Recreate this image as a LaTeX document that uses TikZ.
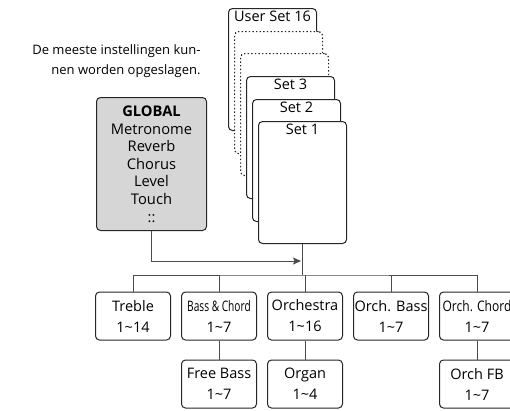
\documentclass[tikz,border=0pt]{standalone}
\usepackage{fontspec}
\setmainfont{Open Sans}
\usetikzlibrary{positioning, arrows.meta}

\begin{document}
\begin{tikzpicture}[
  x=1pt, y=-1pt,
  >={Stealth[length=8pt, width=7pt, inset=1.5pt]},
  line width=1pt,
  font=\fontsize{14.5}{18}\selectfont,
  card/.style={draw=black!85, fill=white, rounded corners=4pt, minimum width=88pt, minimum height=122pt, anchor=north west, inner sep=0pt},
  ghost/.style={card, dash pattern=on 1.4pt off 2.2pt, line width=1.2pt},
  cardname/.style={anchor=north, inner sep=0pt, yshift=-2pt},
  mode/.style={draw=black!85, rounded corners=4pt, minimum width=75pt, minimum height=48pt, align=center, inner sep=1pt, font=\fontsize{14.5}{21}\selectfont},
  wire/.style={draw=black!70},
  node distance=19pt and 10pt
]
  \useasboundingbox (0,0) rectangle (510,410);

  % Note at the top left
  \node[anchor=north east, align=right, inner sep=0pt, font=\fontsize{13}{20}\selectfont] (note) at (201,44)
    {De meeste instellingen kun-\\nen worden opgeslagen.};

  % Stack of user sets, back to front
  \node[card] (user16) at (228,8) {};
  \node[cardname] at (user16.north) {User Set 16};
  \node[ghost] (dots1) at (234,31) {};
  \node[ghost] (dots2) at (240,53) {};
  \node[card] (set3) at (246,76) {};
  \node[cardname] at (set3.north) {Set 3};
  \node[card] (set2) at (252,99) {};
  \node[cardname] at (set2.north) {Set 2};
  \node[card] (set1) at (258,121) {};
  \node[cardname] at (set1.north) {Set 1};

  % Global settings
  \node[draw=black!85, fill=black!16, rounded corners=4pt, anchor=north west, minimum width=110pt, minimum height=133pt,
        align=center, inner sep=2pt, font=\fontsize{14.7}{17.6}\selectfont] (global) at (96,97)
    {\textbf{GLOBAL}\\Metronome\\Reverb\\Chorus\\Level\\Touch\\::};

  % First row of tones
  \node[mode] (treble) at (133,316) {Treble\\1\textasciitilde 14};
  \node[mode, right=of treble] (bass) {\scalebox{0.7}[1]{Bass \& Chord}\\1\textasciitilde 7};
  \node[mode, right=of bass] (orch) {Orchestra\\1\textasciitilde 16};
  \node[mode, right=of orch] (obass) {Orch. Bass\\1\textasciitilde 7};
  \node[mode, right=of obass] (ochord) {\scalebox{0.83}[1]{Orch. Chord}\\1\textasciitilde 7};

  % Second row
  \node[mode, below=of bass] (free) {Free Bass\\1\textasciitilde 7};
  \node[mode, below=of orch] (organ) {Organ\\1\textasciitilde 4};
  \node[mode, below=of ochord] (orchfb) {Orch FB\\1\textasciitilde 7};

  % Connectors
  \coordinate (hub) at (set1.south |- 0,261);
  \coordinate (bus) at (set1.south |- 0,275);
  \draw[wire, ->] (global.south) |- ([xshift=-1.5pt]hub);
  \draw[wire] (set1.south) -- (bus);
  \draw[wire] (treble.north) |- (bus) -| (ochord.north);
  \foreach \t in {bass, orch, obass}
    \draw[wire] (\t.north) -- (\t.north |- bus);
  \draw[wire] (bass.south) -- (free.north);
  \draw[wire] (orch.south) -- (organ.north);
  \draw[wire] (ochord.south) -- (orchfb.north);
\end{tikzpicture}
\end{document}
